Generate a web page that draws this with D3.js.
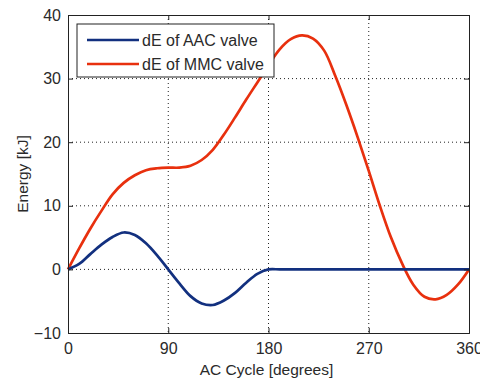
<!DOCTYPE html>
<html>
<head>
<meta charset="utf-8">
<script src="https://cdn.jsdelivr.net/npm/d3@7"></script>
<style>
  body { margin: 0; background: #fff; }
  text { font-family: "Liberation Sans", Arial, sans-serif; fill: #2a2a2a; }
</style>
</head>
<body>
<svg id="chart"></svg>
<script>
// AC cycle angle, degrees
const degrees = [0, 10, 20, 30, 40, 50, 60, 70, 80, 90, 100, 110, 120, 130, 140, 150, 160, 170, 180,
                 190, 200, 210, 220, 230, 240, 250, 260, 270, 280, 290, 300, 310, 320, 330, 340, 350, 360];

// dE of AAC valve [kJ]
const aacEnergy = [0, 0.85, 2.4, 3.9, 5.1, 5.8, 5.4, 4.1, 2.2, 0, -2.2, -4.2, -5.35, -5.6, -4.9, -3.7, -2.1, -0.7, 0,
                   0, 0, 0, 0, 0, 0, 0, 0, 0, 0, 0, 0, 0, 0, 0, 0, 0, 0];

// dE of MMC valve [kJ]
const mmcEnergy = [0, 3.3, 6.4, 9.2, 11.8, 13.6, 14.8, 15.6, 15.9, 16.0, 16.0, 16.3, 17.2, 18.8, 21.2, 23.9, 26.7, 29.4, 32.1,
                   34.6, 36.2, 36.8, 36.3, 34.4, 30.4, 25.8, 20.8, 15.5, 10.0, 5.0, 0.9, -2.4, -4.3, -4.7, -4.0, -2.4, 0];

const xTicks = [0, 90, 180, 270, 360];
const yTicks = [-10, 0, 10, 20, 30, 40];

const seriesNames = ["dE of AAC valve", "dE of MMC valve"];
const seriesColors = ["#12307f", "#e8300e"];

const W = 480, H = 379;
const margin = { top: 15, right: 11, bottom: 46, left: 68 };
const width = W - margin.left - margin.right,
      height = H - margin.top - margin.bottom;

const svg = d3.select("#chart")
    .attr("width", W)
    .attr("height", H)
    .append("g")
    .attr("transform", `translate(${margin.left},${margin.top})`);

const x = d3.scaleLinear().domain([0, 360]).range([0, width]);
const y = d3.scaleLinear().domain([-10, 40]).range([height, 0]);

// dotted grid
svg.selectAll(".vgrid")
    .data(xTicks.slice(1, -1))
    .enter().append("line")
    .attr("x1", d => x(d)).attr("x2", d => x(d))
    .attr("y1", 0).attr("y2", height)
    .attr("stroke", "#222")
    .attr("stroke-width", 1)
    .attr("stroke-dasharray", "1,3");

svg.selectAll(".hgrid")
    .data(yTicks.slice(1, -1))
    .enter().append("line")
    .attr("x1", 0).attr("x2", width)
    .attr("y1", d => y(d)).attr("y2", d => y(d))
    .attr("stroke", "#222")
    .attr("stroke-width", 1)
    .attr("stroke-dasharray", "1,3");

// curves
const series = [aacEnergy, mmcEnergy];
const line = d3.line()
    .x((d, i) => x(degrees[i]))
    .y(d => y(d))
    .curve(d3.curveCatmullRom.alpha(0.5));

// MMC below AAC so the blue flat line stays visible
[1, 0].forEach(k => {
    svg.append("path")
       .datum(series[k])
       .attr("d", line)
       .attr("fill", "none")
       .attr("stroke", seriesColors[k])
       .attr("stroke-width", 2.7)
       .attr("stroke-linejoin", "round");
});

// axes with inward ticks
const tickLen = 5;
svg.append("g")
   .attr("transform", `translate(0,${height})`)
   .call(d3.axisBottom(x).tickValues(xTicks).tickSize(-tickLen).tickPadding(9))
   .call(g => g.selectAll("text").attr("font-size", 16).attr("dy", "0.75em"));

svg.append("g")
   .call(d3.axisTop(x).tickValues(xTicks).tickSize(-tickLen).tickFormat(""));

svg.append("g")
   .call(d3.axisLeft(y).tickValues(yTicks).tickSize(-tickLen).tickPadding(7))
   .call(g => g.selectAll("text").attr("font-size", 16));

svg.append("g")
   .attr("transform", `translate(${width},0)`)
   .call(d3.axisRight(y).tickValues(yTicks).tickSize(-tickLen).tickFormat(""));

svg.selectAll(".domain").attr("stroke", "#222");
svg.selectAll(".tick line").attr("stroke", "#222");
svg.selectAll(".tick text").attr("fill", "#2a2a2a").attr("font-family", "Liberation Sans, Arial, sans-serif");

// axis labels
svg.append("text")
   .attr("x", width / 2 - 2)
   .attr("y", height + 42)
   .attr("text-anchor", "middle")
   .attr("font-size", 15.5)
   .text("AC Cycle [degrees]");

svg.append("text")
   .attr("transform", `translate(${-40},${height / 2}) rotate(-90)`)
   .attr("text-anchor", "middle")
   .attr("font-size", 15.5)
   .text("Energy [kJ]");

// legend
const legend = svg.append("g").attr("transform", "translate(9,9)");
legend.append("rect")
   .attr("width", 197).attr("height", 53)
   .attr("fill", "#fff")
   .attr("stroke", "#222")
   .attr("stroke-width", 1);

seriesNames.forEach((name, i) => {
    const row = legend.append("g").attr("transform", `translate(0,${16 + i * 24})`);
    row.append("line")
       .attr("x1", 10).attr("x2", 62)
       .attr("y1", 0).attr("y2", 0)
       .attr("stroke", seriesColors[i])
       .attr("stroke-width", 2.7);
    row.append("text")
       .attr("x", 65)
       .attr("y", 5.5)
       .attr("font-size", 16)
       .text(name);
});
</script>
</body>
</html>
